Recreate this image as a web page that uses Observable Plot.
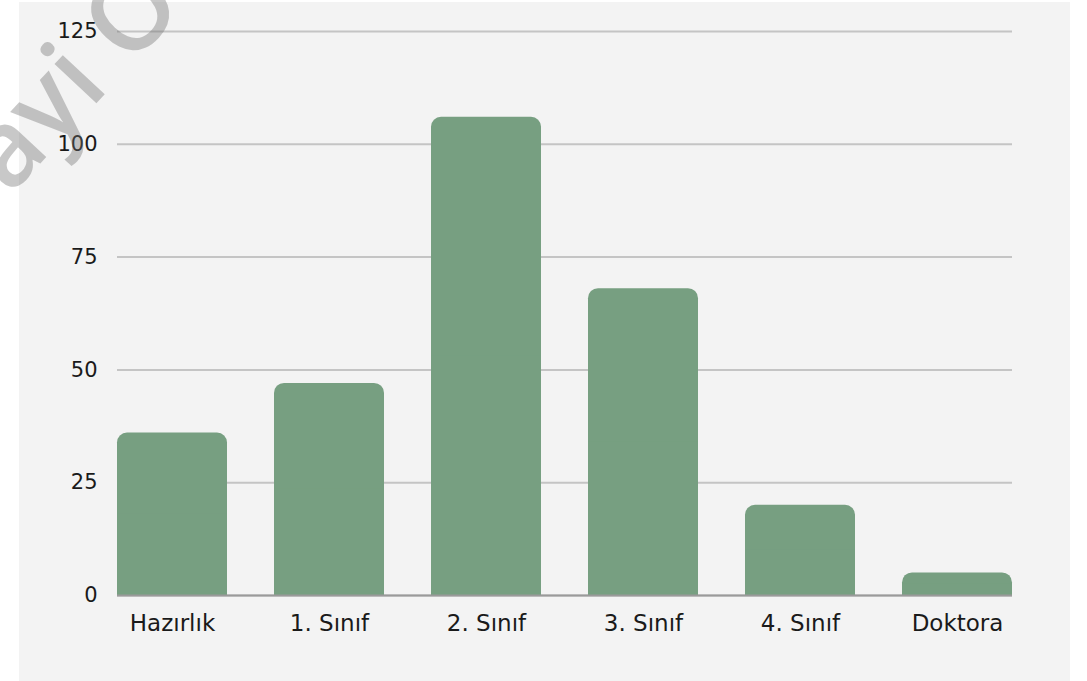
<!DOCTYPE html>
<html>
<head>
<meta charset="utf-8">
<script src="https://cdn.jsdelivr.net/npm/d3@7"></script>
<script src="https://cdn.jsdelivr.net/npm/@observablehq/plot@0.6"></script>
<style>
  html, body { margin: 0; padding: 0; background: #ffffff; }
  #wrap { position: relative; width: 1087px; height: 681px; overflow: hidden; background: #ffffff; }
  #chart { position: absolute; left: 19px; top: 2px; }
  #wm { position: absolute; left: 0; top: 0; pointer-events: none; }
</style>
</head>
<body>
<div id="wrap">
  <div id="chart"></div>
  <svg id="wm" width="1087" height="681">
    <text x="10" y="196" transform="rotate(-47 10 196)" font-family="'Open Sans', sans-serif" font-weight="600" font-size="106" fill="rgb(110,110,110)" fill-opacity="0.38">ayi O</text>
  </svg>
</div>
<script>
const categories = ["Hazırlık", "1. Sınıf", "2. Sınıf", "3. Sınıf", "4. Sınıf", "Doktora"];
const values = [36, 47, 106, 68, 20, 5];
const yTicks = [0, 25, 50, 75, 100, 125];

const data = categories.map((c, i) => ({category: c, value: values[i]}));
const barColor = "#779f81";

const chart = Plot.plot({
  width: 1051,
  height: 679,
  marginLeft: 98,
  marginRight: 58,
  marginTop: 29,
  marginBottom: 86,
  style: {background: "#f3f3f3", fontFamily: "'DejaVu Sans', sans-serif", fontSize: "22px", color: "#1a1a1a"},
  x: {domain: categories, paddingInner: 0.3, paddingOuter: 0, label: null},
  y: {domain: [0, 125], label: null},
  marks: [
    Plot.gridY(yTicks, {stroke: "#c4c4c4", strokeWidth: 2, strokeOpacity: 1}),
    Plot.barY(data, {x: "category", y: "value", fill: barColor, rx: 10}),
    Plot.barY(data, {x: "category", y: d => d.value / 2, fill: barColor}),
    Plot.ruleY([0], {stroke: "#9a9a9a", strokeWidth: 2}),
    Plot.axisY(yTicks, {tickSize: 0, tickPadding: 20, fontSize: 21, label: null}),
    Plot.axisX({tickSize: 0, tickPadding: 19, fontSize: 23, label: null})
  ]
});
document.getElementById("chart").appendChild(chart);
</script>
</body>
</html>
